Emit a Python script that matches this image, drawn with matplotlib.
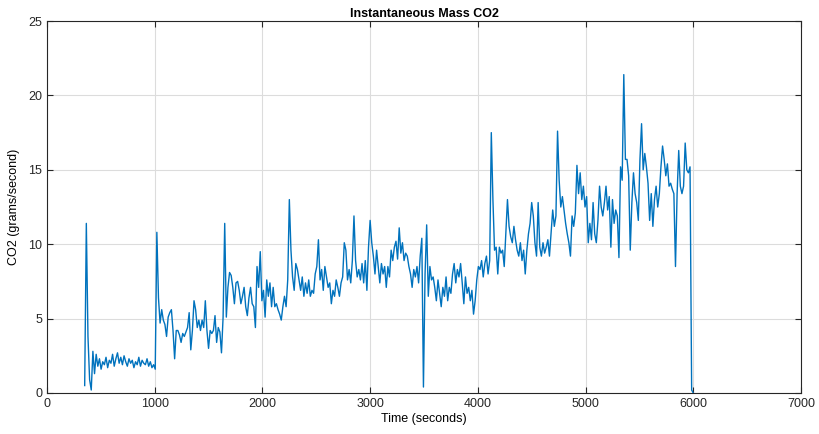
import numpy as np
import matplotlib.pyplot as plt

# mass flow samples, read per stretch of the test (start s, end s, values g/s)
tramo_a = (350, 1005, [
    0.5, 11.4, 3.8, 0.9, 0.2, 2.8, 1.3, 2.6, 1.8, 2.3,
    1.6, 2.1, 1.9, 2.4, 1.7, 2.2, 2.0, 2.6, 1.8, 2.3,
    2.7, 2.0, 2.4, 1.9, 2.5, 2.1, 1.8, 2.3, 2.0, 2.2,
    1.7, 2.1, 1.9, 2.4, 1.8, 2.2, 2.0, 1.9, 2.3, 1.8,
    2.1, 1.7, 1.9, 1.6])
tramo_b = (1020, 1635, [
    10.8, 6.4, 4.7, 5.6, 4.9, 4.6, 3.8, 5.1, 5.4, 5.6,
    4.2, 2.3, 4.2, 4.2, 3.9, 3.4, 4.0, 3.8, 4.1, 4.4,
    5.4, 2.9, 4.2, 6.2, 5.6, 4.4, 4.9, 4.2, 4.9, 4.4,
    6.2, 4.2, 3.0, 4.2, 4.0, 4.2, 5.2, 3.4, 4.4, 4.1,
    2.7, 5.1])
tramo_c = (1650, 3000, [
    11.4, 5.1, 7.1, 8.1, 7.9, 7.1, 6.0, 7.4, 7.5, 6.9,
    6.0, 6.5, 7.1, 5.8, 5.2, 6.4, 7.1, 6.0,
    5.8, 4.4, 8.5, 7.1, 9.5, 6.2, 6.9, 5.1, 7.6, 6.5,
    7.4, 5.8, 7.1, 5.8, 6.0, 5.6, 5.3, 4.9, 5.8, 6.5,
    5.8, 7.6, 13.0, 9.6, 7.8, 6.9, 8.7, 8.3, 7.6, 6.9,
    7.8, 6.5, 7.4, 6.7, 7.6, 6.5, 6.9, 6.7, 8.0, 8.5,
    10.3, 7.6, 8.3, 6.9, 8.5, 7.8, 7.1, 7.4, 6.0, 6.9,
    6.5, 7.6, 7.1, 6.5, 7.4, 7.8, 10.1, 9.6, 7.6, 8.3,
    7.4, 8.9, 11.9, 8.9, 7.8, 8.3, 7.6, 8.7, 7.4, 8.9,
    6.9, 9.8, 11.6])
tramo_d = (3015, 4005, [
    10.1, 9.2, 8.0, 9.6, 8.5, 7.4, 8.7, 8.0, 8.5, 7.1,
    8.5, 7.8, 9.6, 8.9, 9.8, 10.2, 9.0, 11.1, 9.4, 10.1,
    8.9, 9.4, 9.2, 8.5, 8.0, 7.1, 8.3, 7.8, 8.5, 7.4,
    9.2, 10.4, 0.4, 8.0, 11.3, 6.5, 8.5, 7.6, 7.8, 7.1,
    6.2, 7.6, 6.7, 5.8, 7.1, 6.5, 7.8, 6.2, 7.1, 6.7,
    8.0, 8.7, 7.4, 8.3, 7.8, 8.7, 7.4, 6.0, 7.8, 6.7,
    7.1, 6.2, 6.9, 5.3, 6.2, 7.6, 8.5])
tramo_e = (4020, 5025, [
    8.3, 8.9, 7.8, 8.7, 9.2, 8.0, 8.9, 17.5, 13.0, 9.6,
    9.8, 8.0, 9.8, 9.4, 9.6, 8.5, 10.7, 13.0, 11.2, 10.5,
    10.1, 11.2, 10.3, 9.6, 9.2, 10.1, 8.9, 9.6, 8.0, 9.6,
    10.7, 11.4, 12.8, 11.9, 10.1, 9.2, 12.8, 9.8, 9.2, 10.1,
    9.4, 9.8, 10.3, 9.2, 10.7, 12.3, 11.2, 11.9, 17.6, 14.3,
    12.5, 13.2, 12.3, 11.4, 10.7, 10.1, 9.2, 11.9, 11.2, 12.1,
    15.3, 13.4, 14.8, 13.0, 13.9, 12.5, 13.2, 10.1])
tramo_f = (5040, 6000, [
    11.4, 10.3, 12.8, 10.7, 10.1, 11.6, 13.9, 12.5, 11.9, 12.8,
    13.9, 12.3, 13.2, 9.8, 13.0, 11.4, 12.3, 11.9, 9.1, 15.2,
    14.3, 21.4, 15.7, 15.7, 14.6, 9.6, 12.8, 14.8, 13.4, 12.8,
    11.6, 15.7, 18.1, 15.0, 16.1, 15.2, 14.1, 11.6, 13.4, 11.2,
    13.0, 13.9, 12.5, 13.4, 15.2, 16.6, 15.7, 14.6, 15.4, 13.9,
    14.1, 13.7, 13.4, 8.5, 13.4, 16.3, 13.9, 13.4, 13.9, 16.8,
    15.0, 14.8, 15.2, 0.2, 0.0])

tramos = [tramo_a, tramo_b, tramo_c, tramo_d, tramo_e, tramo_f]

tiempo = np.concatenate([np.linspace(t0, t1, len(v)) for t0, t1, v in tramos])
co2 = np.concatenate([np.array(v) for _, _, v in tramos])

plt.rcParams['font.family'] = ['Liberation Sans', 'DejaVu Sans']

fig = plt.figure(figsize=(8.2, 4.34), dpi=100)
ax = fig.add_axes([0.0573, 0.0945, 0.9195, 0.857])

ax.plot(tiempo, co2, color='#0072BD', linewidth=1.0)

ax.set_xlim(0, 7000)
ax.set_ylim(0, 25)
ax.set_xticks(np.arange(0, 7001, 1000))
ax.set_yticks(np.arange(0, 26, 5))
ax.grid(True, color='#dcdcdc', linewidth=0.8)
ax.set_axisbelow(True)
ax.tick_params(direction='in', length=4, top=True, right=True,
               labelsize=9, colors='#262626')
for lado in ax.spines.values():
    lado.set_color('#262626')
    lado.set_linewidth(0.8)

ax.set_title('Instantaneous Mass CO2', fontsize=9, fontweight='bold', pad=3)
ax.set_xlabel('Time (seconds)', fontsize=9, labelpad=2)
ax.set_ylabel('CO2 (grams/second)', fontsize=9, labelpad=6)

fig.savefig('out.png', dpi=100)
